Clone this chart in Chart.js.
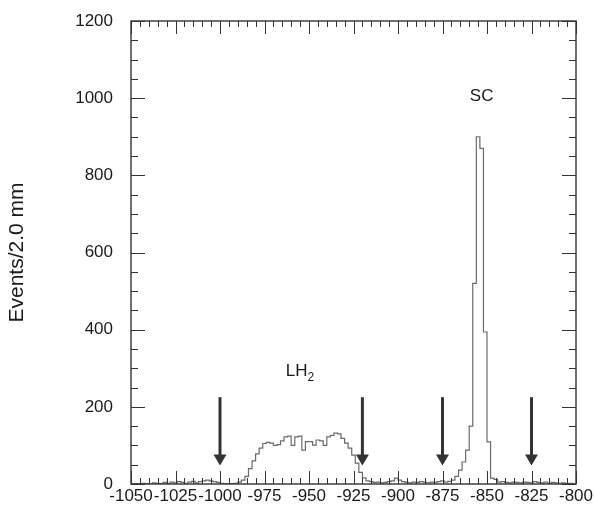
<!DOCTYPE html>
<html>
<head>
<meta charset="utf-8">
<script src="https://cdn.jsdelivr.net/npm/chart.js@4.4.1/dist/chart.umd.min.js"></script>
<style>
  html, body { margin: 0; padding: 0; background: #fff; }
</style>
</head>
<body>
<canvas id="zChart" width="594" height="509"></canvas>
<script>
// Vertex z distribution, 2 mm bins starting at -1050 mm
const binStart = -1050;
const binWidth = 2;
const counts = [
  0, 1, 0, 2, 1, 0, 3, 2, 1, 4,            // -1050 .. -1032
  2, 5, 3, 6, 4, 2, 5, 7, 3, 6,            // -1030 .. -1012
  8, 10, 8, 6, 4, 2, 1, 0, 1, 2,           // -1010 .. -992
  5, 10, 20, 40, 60, 78, 93, 105, 108, 106, // -990 .. -972
  100, 102, 112, 122, 124, 100, 122, 124, 88, 110, // -970 .. -952
  110, 101, 114, 112, 100, 122, 126, 132, 130, 118, // -950 .. -932
  106, 93, 75, 54, 30, 16, 8, 6, 4, 5,     // -930 .. -912
  3, 4, 6, 8, 15, 10, 6, 4, 3, 5,          // -910 .. -892
  4, 6, 5, 3, 5, 4, 6, 8, 5, 7,            // -890 .. -872
  10, 20, 36, 57, 88, 150, 520, 900, 870, 394, // -870 .. -852
  109, 15, 12, 5, 6, 4, 3, 5, 4, 3,        // -850 .. -832
  5, 4, 3, 6, 4, 3, 5, 2, 4, 3,            // -830 .. -812
  2, 3, 1, 2, 0                            // -810 .. -802
];

const xTickValues = [-1050, -1025, -1000, -975, -950, -925, -900, -875, -850, -825, -800];
const yTickValues = [0, 200, 400, 600, 800, 1000, 1200];
const xMinorStep = 5;
const yMinorStep = 50;

// cut positions marked with arrows
const cutPositions = [-1000, -920, -875, -825];
const arrowTop = 225;
const arrowTip = 48;

// text labels on the plot
const peakLabels = [
  { text: 'SC', sub: '', x: -853, y: 1005 },
  { text: 'LH', sub: '2', x: -957, y: 293 }
];

const FONT = '"Liberation Sans", Arial, Helvetica, sans-serif';
const INK = '#333';

// one point per bin edge, stepped line draws the histogram outline
const points = counts.map((c, i) => ({ x: binStart + i * binWidth, y: c }));
points.push({ x: binStart + counts.length * binWidth, y: 0 });

const frameAndMarks = {
  id: 'frameAndMarks',
  afterDatasetsDraw(chart) {
    const { ctx, chartArea: a, scales: { x, y } } = chart;
    ctx.save();

    // frame
    ctx.strokeStyle = INK;
    ctx.lineWidth = 1.4;
    ctx.strokeRect(a.left, a.top, a.right - a.left, a.bottom - a.top);

    // inward ticks on all four sides
    ctx.lineWidth = 1;
    ctx.beginPath();
    for (let v = x.min; v <= x.max; v += xMinorStep) {
      const px = Math.round(x.getPixelForValue(v)) + 0.5;
      const len = v % 25 === 0 ? 13 : 6;
      ctx.moveTo(px, a.bottom); ctx.lineTo(px, a.bottom - len);
      ctx.moveTo(px, a.top); ctx.lineTo(px, a.top + len);
    }
    for (let v = y.min; v <= y.max; v += yMinorStep) {
      const py = Math.round(y.getPixelForValue(v)) + 0.5;
      const len = v % 200 === 0 ? 14 : 7;
      ctx.moveTo(a.left, py); ctx.lineTo(a.left + len, py);
      ctx.moveTo(a.right, py); ctx.lineTo(a.right - len, py);
    }
    ctx.stroke();

    // arrows
    ctx.strokeStyle = INK;
    ctx.fillStyle = INK;
    cutPositions.forEach(v => {
      const px = x.getPixelForValue(v);
      const top = y.getPixelForValue(arrowTop);
      const tip = y.getPixelForValue(arrowTip);
      ctx.lineWidth = 3;
      ctx.beginPath();
      ctx.moveTo(px, top);
      ctx.lineTo(px, tip - 6);
      ctx.stroke();
      ctx.beginPath();
      ctx.moveTo(px - 6.5, tip - 11);
      ctx.lineTo(px + 6.5, tip - 11);
      ctx.lineTo(px, tip);
      ctx.closePath();
      ctx.fill();
    });

    // labels
    ctx.fillStyle = '#1a1a1a';
    ctx.textBaseline = 'middle';
    peakLabels.forEach(l => {
      ctx.font = '17px ' + FONT;
      const w1 = ctx.measureText(l.text).width;
      const cx = x.getPixelForValue(l.x);
      const cy = y.getPixelForValue(l.y);
      const start = cx - w1 / 2;
      ctx.textAlign = 'left';
      ctx.fillText(l.text, start, cy);
      if (l.sub) {
        ctx.font = '12px ' + FONT;
        ctx.fillText(l.sub, start + w1, cy + 7);
      }
    });

    ctx.restore();
  }
};

const ctx = document.getElementById('zChart').getContext('2d');
new Chart(ctx, {
  type: 'line',
  data: {
    datasets: [{
      data: points,
      stepped: true,
      borderColor: '#6a6a6a',
      borderWidth: 1.2,
      pointRadius: 0,
      fill: false
    }]
  },
  options: {
    responsive: false,
    animation: false,
    devicePixelRatio: 1,
    layout: { padding: { left: 5, right: 18, top: 21, bottom: 0 } },
    plugins: {
      legend: { display: false },
      tooltip: { enabled: false }
    },
    scales: {
      x: {
        type: 'linear',
        min: -1050,
        max: -800,
        afterBuildTicks: s => { s.ticks = xTickValues.map(v => ({ value: v })); },
        afterFit: s => { s.height = 25; s.paddingLeft = 0; s.paddingRight = 0; },
        grid: { display: false, drawTicks: false },
        border: { display: false },
        ticks: {
          autoSkip: false,
          maxRotation: 0,
          padding: 2,
          color: '#1a1a1a',
          font: { family: FONT, size: 17 },
          callback: v => String(v)
        }
      },
      y: {
        min: 0,
        max: 1200,
        afterBuildTicks: s => { s.ticks = yTickValues.map(v => ({ value: v })); },
        afterFit: s => { s.width = 126; s.paddingTop = 0; s.paddingBottom = 0; },
        grid: { display: false, drawTicks: false },
        border: { display: false },
        title: {
          display: true,
          text: 'Events/2.0 mm',
          color: '#1a1a1a',
          padding: 0,
          font: { family: FONT, size: 21 }
        },
        ticks: {
          padding: 18,
          color: '#1a1a1a',
          font: { family: FONT, size: 17 },
          callback: v => String(v)
        }
      }
    }
  },
  plugins: [frameAndMarks]
});
</script>
</body>
</html>
